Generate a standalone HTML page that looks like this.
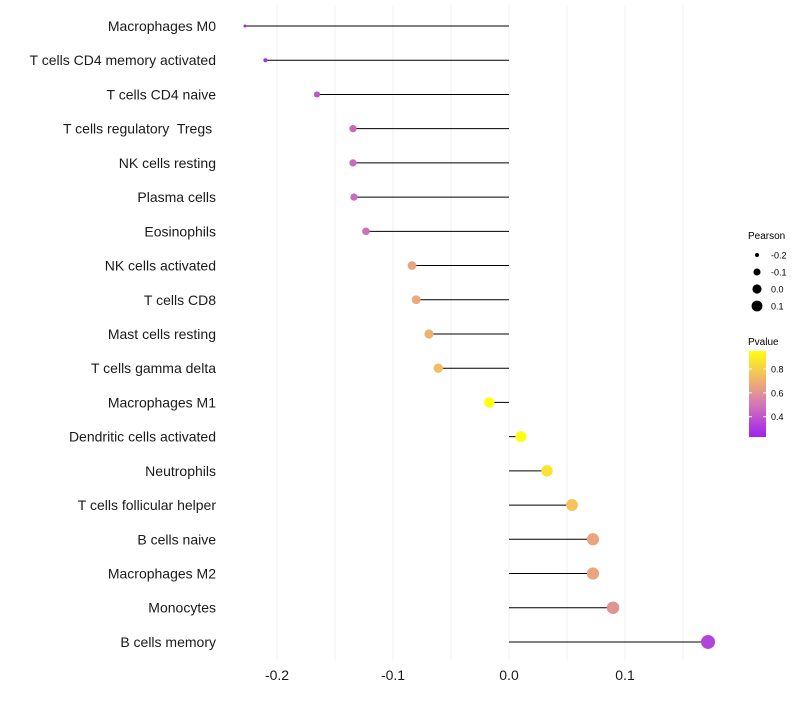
<!DOCTYPE html>
<html><head><meta charset="utf-8"><style>
body{margin:0;background:#fff;font-family:"Liberation Sans",sans-serif}
text{white-space:pre}
</style></head><body>
<svg id="chart" width="800" height="700" xmlns="http://www.w3.org/2000/svg" font-family="Liberation Sans, sans-serif">
<g id="grid"></g><g id="stems"></g><g id="pts"></g><g id="ylab"></g><g id="xlab"></g><g id="legend"></g>
</svg>
<script>
const categories=["Macrophages M0","T cells CD4 memory activated","T cells CD4 naive","T cells regulatory  Tregs ","NK cells resting","Plasma cells","Eosinophils","NK cells activated","T cells CD8","Mast cells resting","T cells gamma delta","Macrophages M1","Dendritic cells activated","Neutrophils","T cells follicular helper","B cells naive","Macrophages M2","Monocytes","B cells memory"];
const pearson=[-0.2276,-0.210,-0.1655,-0.1345,-0.1345,-0.1336,-0.1233,-0.0836,-0.080,-0.069,-0.061,-0.017,0.0103,0.0328,0.0543,0.0724,0.0724,0.0897,0.1716];
const pvalue=[0.25,0.28,0.40,0.45,0.46,0.46,0.48,0.66,0.67,0.70,0.74,0.95,0.97,0.86,0.76,0.66,0.66,0.60,0.34];
const xTicks=[-0.2,-0.1,0.0,0.1];
const xTickLabels=["-0.2","-0.1","0.0","0.1"];
const sizeLegend=[-0.2,-0.1,0.0,0.1];
const pTicks=[0.8,0.6,0.4];
const NS="http://www.w3.org/2000/svg";
const x=v=>509+v*1160;
const y=i=>26+i*34.22;
const vmin=Math.min(...pearson),vmax=Math.max(...pearson);
const rad=v=>Math.sqrt(2.25+(v-vmin)/(vmax-vmin)*(49-2.25));
const stops=[[0.23,[160,32,240]],[0.5,[210,118,184]],[0.7,[240,176,112]],[0.95,[255,255,16]]];
function col(p){p=Math.max(0.23,Math.min(0.95,p));for(let k=0;k<stops.length-1;k++){const[a,ca]=stops[k],[b,cb]=stops[k+1];if(p<=b){const t=(p-a)/(b-a);return`rgb(${ca.map((c,j)=>Math.round(c+(cb[j]-c)*t)).join(",")})`;}}return"rgb(255,255,16)";}
function mk(tag,attrs,parent,text){const e=document.createElementNS(NS,tag);for(const k in attrs)e.setAttribute(k,attrs[k]);if(text!==undefined)e.textContent=text;document.getElementById(parent).appendChild(e);return e;}
[-0.2,-0.15,-0.1,-0.05,0,0.05,0.1,0.15].forEach(v=>{const l=mk("line",{x1:x(v),x2:x(v),y1:5,y2:660,stroke:"#f2f2f2","stroke-width":1},"grid");

});
categories.forEach((c,i)=>{
const s=mk("line",{x1:x(pearson[i]),x2:x(0),y1:y(i),y2:y(i),stroke:"#000","stroke-width":1},"stems");


const p=mk("circle",{cx:x(pearson[i]),cy:y(i),r:rad(pearson[i]),fill:col(pvalue[i])},"pts");


const t=mk("text",{x:216,y:y(i)+5,"text-anchor":"end","font-size":14,fill:"#1a1a1a"},"ylab",c);


});
xTicks.forEach((v,i)=>{const t=mk("text",{x:x(v),y:680,"text-anchor":"middle","font-size":14,fill:"#1a1a1a"},"xlab",xTickLabels[i]);

});
let t=mk("text",{x:748,y:239,"font-size":10},"legend","Pearson");


sizeLegend.forEach((v,i)=>{const cy=255+i*17;
const c=mk("circle",{cx:757,cy:cy,r:rad(v)*0.85,fill:"#000"},"legend");


const l=mk("text",{x:771,y:cy+3.5,"font-size":9},"legend",v.toFixed(1));

});
t=mk("text",{x:748,y:345,"font-size":10},"legend","Pvalue");


const defs=mk("defs",{},"legend");const g=document.createElementNS(NS,"linearGradient");g.id="pg";g.setAttribute("x1","0");g.setAttribute("y1","1");g.setAttribute("x2","0");g.setAttribute("y2","0");defs.appendChild(g);
stops.forEach(s=>{const st=document.createElementNS(NS,"stop");st.setAttribute("offset",(s[0]-0.23)/0.72);st.setAttribute("stop-color",col(s[0]));g.appendChild(st);});
const bar=mk("rect",{x:749,y:351,width:17,height:86,fill:"url(#pg)"},"legend");


pTicks.forEach(p=>{const cy=437-(p-0.23)/0.72*86;
mk("line",{x1:749,x2:752,y1:cy,y2:cy,stroke:"#fff"},"legend");mk("line",{x1:763,x2:766,y1:cy,y2:cy,stroke:"#fff"},"legend");
const l=mk("text",{x:771,y:cy+3.5,"font-size":9},"legend",p.toFixed(1));

});
</script>
</body></html>
